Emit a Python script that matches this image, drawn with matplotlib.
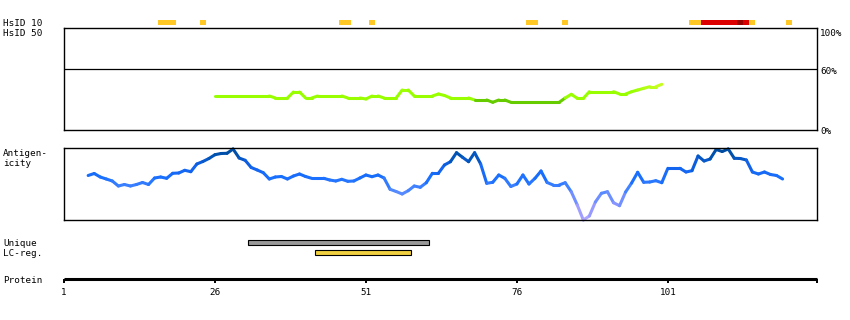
import numpy as np
import matplotlib
matplotlib.use("Agg")
import matplotlib.pyplot as plt
from matplotlib.collections import LineCollection
from matplotlib.colors import LinearSegmentedColormap

# protein ruler (residues)
axis_end = 125.7
tick_pos = [1, 26, 51, 76, 101]
tick_labels = ['1', '26', '51', '76', '101']

# HsID 10 track: residues with hits
hsid10_yellow = [17, 18, 19, 24, 47, 48, 52, 78, 79, 84, 105, 106, 115, 121]
hsid10_red = [107, 108, 109, 110, 111, 112, 114]
hsid10_darkred = [113]

# HsID 50 identity (%), residues 26..100
hsid50_start = 26
hsid50 = [33, 33, 33, 33, 33, 33, 33, 33, 33, 33,
          31, 31, 31, 37, 37, 31, 31, 33, 33, 33,
          33, 33, 31, 31, 31, 30, 33, 33, 31, 31,
          31, 39, 39, 33, 33, 33, 33, 35, 33.5, 31,
          31, 31, 31, 29, 29, 29, 26.7, 29, 29, 26.7,
          26.7, 26.7, 26.7, 26.7, 26.7, 26.7, 26.7, 26.7, 31, 34.7,
          30.7, 30.7, 37.3, 37.3, 37.3, 37.3, 37.3, 35, 35, 37.3,
          39, 40.7, 42.3, 42.3, 44.7]

# antigenicity (arbitrary units), residues 5..120
antigen_start = 5
antigen = [44.5, 46.5, 43, 41, 39, 34, 35.5, 34, 35.5, 37.5,
           35.5, 42, 43, 41.7, 46.7, 47, 49.7, 48.3, 56, 58.5,
           61.5, 65.3, 66.5, 66.7, 71, 62, 59.7, 52.5, 50, 47.3,
           41, 43, 43.5, 41, 44, 46, 43.5, 41.7, 41.7, 41.7,
           40, 39, 40.7, 38.7, 39, 42, 45, 43.3, 45, 42,
           30.7, 28.5, 26, 29.3, 34, 32.7, 37.3, 46.7, 46.7, 55,
           58.3, 67.3, 62.7, 58.3, 67.3, 56, 36.7, 37.7, 45, 41.7,
           33.5, 36, 45, 36, 41.7, 49, 37.5, 35, 35, 37.3,
           28.3, 15, 0, 4, 18, 26.7, 28.3, 17.3, 14.3, 28,
           37, 47.7, 37.7, 38, 39.3, 37.3, 51.7, 51.7, 51.7, 48,
           49.3, 64, 59, 61, 70.5, 68.5, 71, 61.7, 61.5, 60,
           48, 46, 48, 45.5, 44.5, 41]

unique_region = (32, 61)
lc_region = (43, 58)

plt.rcParams['font.family'] = ['DejaVu Sans Mono']
plt.rcParams['font.size'] = 6.7

W, H = 850, 320
fig = plt.figure(figsize=(8.5, 3.2), dpi=100)


def px_axes(x0, y0, x1, y1):
    ax = fig.add_axes([x0 / W, 1 - y1 / H, (x1 - x0) / W, (y1 - y0) / H])
    ax.set_xlim(1, axis_end)
    return ax


def label(x, y_base, s, **kw):
    fig.text(x / W, 1 - y_base / H, s, va='baseline', ha='left', **kw)


def colored_line(ax, xs, ys, color_of, lw=2.2):
    pts = np.column_stack([xs, ys])
    segs = np.stack([pts[:-1], pts[1:]], axis=1)
    mids = (np.array(ys[:-1]) + np.array(ys[1:])) / 2
    lc = LineCollection(segs, colors=[color_of(v) for v in mids],
                        linewidths=lw, capstyle='round', joinstyle='round')
    lc.set_clip_on(False)
    ax.add_collection(lc)


def frame(ax, lw=1.0):
    ax.set_xticks([])
    ax.set_yticks([])
    for s in ax.spines.values():
        s.set_linewidth(lw)


# HsID 10 track
ax10 = px_axes(64, 20, 817, 25)
ax10.set_ylim(0, 1)
ax10.axis('off')
for res, col in [(hsid10_yellow, '#ffc825'), (hsid10_red, '#dd0000'),
                 (hsid10_darkred, '#990000')]:
    ax10.bar(res, 1, width=1.0, bottom=0, color=col, linewidth=0)

# HsID 50 panel
ax50 = px_axes(64, 28, 817, 130)
ax50.set_ylim(-1, 101)
frame(ax50)
ax50.axhline(60, color='black', linewidth=0.9)


def green(v):
    if v < 29.6:
        return '#66cc00'
    t = float(np.clip((v - 38) / 7, 0, 1))
    c0 = np.array([153, 255, 0]) / 255
    c1 = np.array([210, 255, 40]) / 255
    return tuple(c0 * (1 - t) + c1 * t)


x50 = np.arange(hsid50_start, hsid50_start + len(hsid50))
colored_line(ax50, x50, hsid50, green)

# antigenicity panel
axa = px_axes(64, 148, 817, 220)
axa.set_ylim(0, 72)
frame(axa)
blue_cmap = LinearSegmentedColormap.from_list(
    'antigen', [(0, '#b4a8ff'), (15 / 72, '#8c96ff'), (30 / 72, '#4d88ff'),
                (42 / 72, '#1a70ff'), (55 / 72, '#1060e8'),
                (65 / 72, '#0052b0'), (1, '#004a9a')])
xa = np.arange(antigen_start, antigen_start + len(antigen))
colored_line(axa, xa, antigen, lambda v: blue_cmap(v / 72))

# unique / low complexity regions
for (y0, y1), (start, end), col in [((240, 245), unique_region, '#999999'),
                                      ((250, 255), lc_region, '#f0d040')]:
    axr = px_axes(64, y0, 817, y1)
    axr.set_ylim(0, 1)
    axr.axis('off')
    axr.barh(0.5, end - start + 1, left=start - 0.5, height=1.0,
             color=col, edgecolor='black', linewidth=0.8, clip_on=False)

# protein ruler
axp = fig.add_axes([64 / W, 1 - 279 / H, 753 / W, 0.0001])
axp.set_xlim(1, axis_end)
for side in ['top', 'left', 'right']:
    axp.spines[side].set_visible(False)
axp.spines['bottom'].set_linewidth(2.2)
axp.spines['bottom'].set_capstyle('butt')
axp.set_yticks([])
axp.set_xticks(tick_pos + [axis_end])
axp.set_xticklabels(tick_labels + [''])
axp.tick_params(axis='x', direction='out', length=3.2, width=1.4, pad=3,
                labelsize=6.7)

# left labels
label(3, 26, 'HsID 10')
label(3, 36, 'HsID 50')
label(3, 156, 'Antigen-')
label(3, 166, 'icity')
label(3, 246, 'Unique')
label(3, 256, 'LC-reg.')
label(3, 283, 'Protein')

# right labels
label(820, 36, '100%')
label(820, 74, '60%')
label(820, 133.5, '0%')

fig.savefig('out.png', dpi=100)
